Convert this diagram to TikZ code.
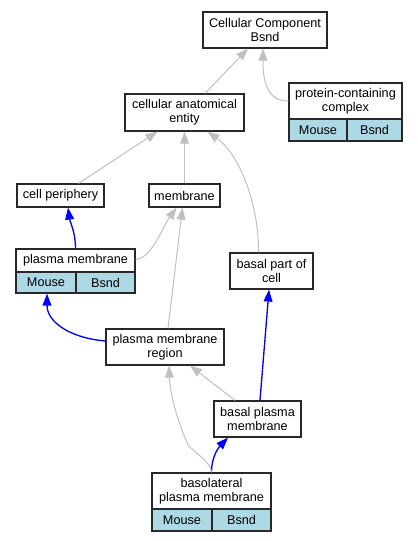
\documentclass[tikz,border=0pt]{standalone}
\usepackage{fontspec}
\setmainfont{Liberation Sans}
\usetikzlibrary{arrows.meta,calc}
\definecolor{cellblue}{RGB}{173,216,230}
\definecolor{edgegray}{RGB}{192,192,192}
\definecolor{boxline}{RGB}{40,40,40}
\begin{document}
\begin{tikzpicture}[x=0.75pt,y=-0.75pt,
  box/.style={draw=boxline, line width=0.9pt, fill=white, inner sep=0pt, align=center,
    font=\fontsize{9.5}{10.5}\selectfont},
  cell/.style={box, fill=cellblue},
  sz/.style 2 args={minimum width=#1*0.75pt, minimum height=#2*0.75pt},
  isa/.style={draw=edgegray, line width=0.75pt, -{Triangle[length=9pt,width=6.6pt]}},
  part/.style={draw=blue, line width=1pt, -{Triangle[length=9pt,width=6.6pt]}}]
\useasboundingbox (0,0) rectangle (417,541);

% nodes
\node[box, sz={124}{36}] (cc) at (265,30) {Cellular Component\\Bsnd};
\node[box, sz={113}{36}] (pcc) at (345.5,101) {protein-containing\\complex};
\node[cell, sz={58}{22}] (pccm) at (318,130) {Mouse};
\node[cell, sz={55}{22}] (pccb) at (374.5,130) {Bsnd};
\node[box, sz={119}{37}] (cae) at (184.5,112.5) {cellular anatomical\\entity};
\node[box, sz={87}{23}] (cp) at (60.5,195.5) {cell periphery};
\node[box, sz={71}{23}] (mem) at (184.5,195.5) {membrane};
\node[box, sz={119}{23}] (pm) at (75.5,260.5) {plasma membrane};
\node[cell, sz={60}{21}] (pmm) at (46,282.5) {Mouse};
\node[cell, sz={59}{21}] (pmb) at (105.5,282.5) {Bsnd};
\node[box, sz={83}{36}] (bpc) at (271.5,271) {basal part of\\cell};
\node[box, sz={118}{36}] (pmr) at (165,347) {plasma membrane\\region};
\node[box, sz={87}{36}] (bpm) at (257.5,419) {basal plasma\\membrane};
\node[box, sz={119}{36}] (bl) at (211.5,491) {basolateral\\plasma membrane};
\node[cell, sz={60}{22}] (blm) at (182,520) {Mouse};
\node[cell, sz={59}{22}] (blb) at (241.5,520) {Bsnd};

% edges
\draw[isa] ($(cae.north)+(20.5,0)$) -- ($(cc.south)+(-17,0)$);
\draw[isa] (pcc.west) .. controls +(-22,0) and +(0,32) .. ($(cc.south)+(-2,0)$);
\draw[isa] ($(cp.north)+(18,0)$) -- ($(cae.south)+(-27,0)$);
\draw[isa] (mem.north) -- (cae.south);
\draw[isa] ($(bpc.north)+(-13,0)$) .. controls (259,205) and (240,155) .. ($(cae.south)+(23,0)$);
\draw[part] (pm.north) .. controls (75.5,232) and (70,222) .. ($(cp.south)+(7.5,0)$);
\draw[isa] ($(pm.east)+(0,-1)$) .. controls (152,258) and (162,228) .. ($(mem.south)+(-8,0)$);
\draw[isa] ($(pmr.north)+(3,0)$) -- ($(mem.south)+(-2,0)$);
\draw[part] ($(pmr.west)+(0,-6)$) .. controls (70,338) and (47,322) .. ($(pmm.south)+(1,0)$);
\draw[part] ($(bpm.north)+(2.5,0)$) -- ($(bpc.south)+(-2.5,0)$);
\draw[isa] ($(bpm.north)+(-22.5,0)$) -- ($(pmr.south)+(25,0)$);
\draw[part] (bl.north) .. controls (211.5,455) and (220,446) .. ($(bpm.south)+(-29.5,0)$);
\draw[isa] (bl.north) .. controls (211,462) and (195,453) .. (188,445)
  .. controls (178,422) and (170,395) .. ($(pmr.south)+(4,0)$);
\end{tikzpicture}
\end{document}
